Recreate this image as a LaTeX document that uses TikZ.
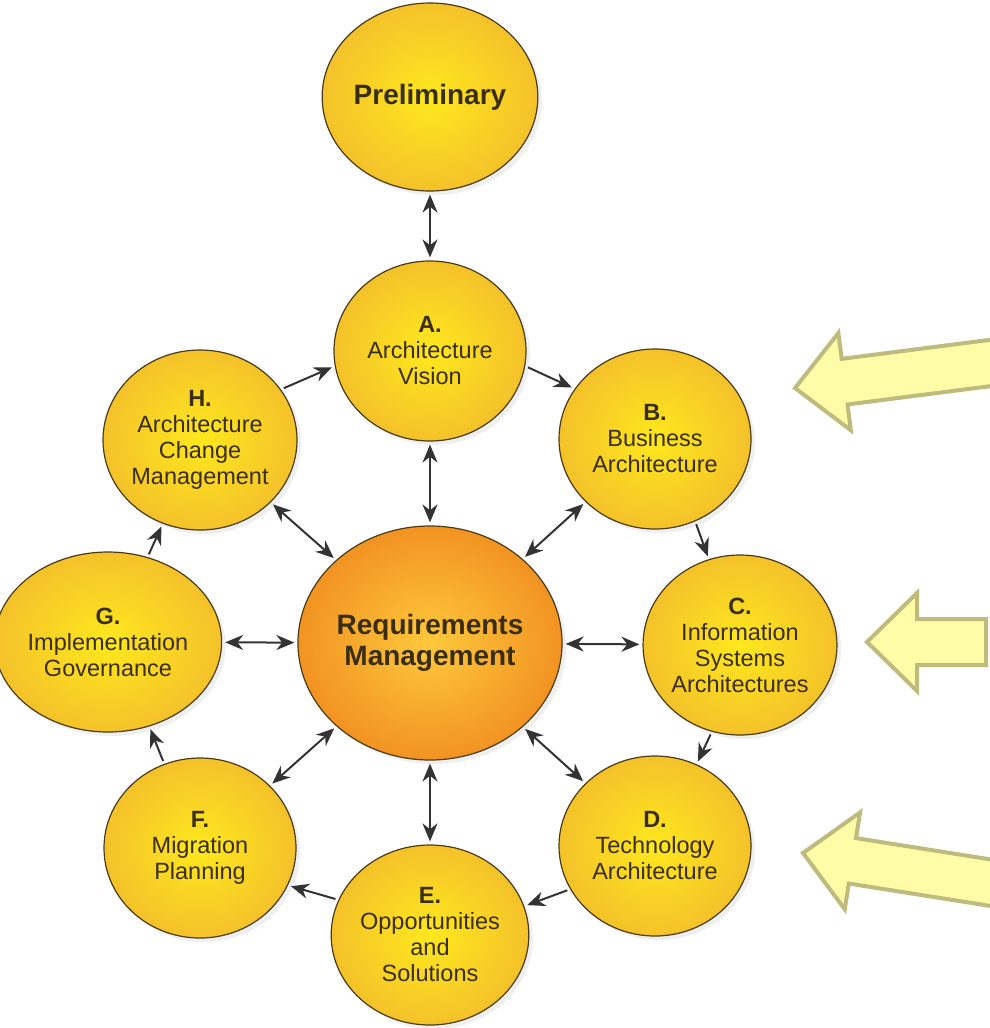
\documentclass[tikz,border=0pt]{standalone}
\usepackage{fontspec}
\setmainfont{Liberation Sans}
\usetikzlibrary{shapes.geometric, arrows.meta, shadows}

\definecolor{phasein}{HTML}{FFE81E}
\definecolor{phaseout}{HTML}{F4C22A}
\definecolor{reqin}{HTML}{FFC83C}
\definecolor{reqout}{HTML}{F29322}
\definecolor{rim}{HTML}{4A3C18}
\definecolor{ink}{HTML}{3A2E12}
\definecolor{hintfill}{HTML}{FFFCA8}
\definecolor{hintrim}{HTML}{BEBB7C}
\definecolor{wire}{HTML}{333333}

\begin{document}
\begin{tikzpicture}[
    x=1pt, y=-1pt,
    phase/.style={ellipse, draw=rim, line width=1.2pt,
                  minimum width=192pt, minimum height=180pt, inner sep=0pt,
                  inner color=phasein, outer color=phaseout,
                  drop shadow={shadow xshift=4pt, shadow yshift=-4pt, opacity=0.12},
                  align=center, text=ink, font=\fontsize{23.5}{26}\selectfont},
    hub/.style={phase, minimum width=244pt, minimum height=234pt,
                inner color=reqin, outer color=reqout,
                font=\fontsize{28}{31}\selectfont\bfseries},
    link/.style={draw=wire, line width=2pt, shorten >=3pt, shorten <=3pt},
    flow/.style={link, -{Stealth[length=18pt, width=15pt]}},
    both/.style={link, {Stealth[length=18pt, width=15pt]}-{Stealth[length=18pt, width=15pt]}},
    hint/.style={fill=hintfill, draw=hintrim, line width=4pt, line join=miter}
  ]
  \path[use as bounding box, fill=white] (0,0) rectangle (990,1028);

  % phases
  \node[phase, minimum height=188pt, font=\fontsize{28}{30}\selectfont\bfseries]
    (prelim) at (430,97) {Preliminary};
  \node[phase] (visionA) at (430,351) {\textbf{A.}\\Architecture\\Vision};
  \node[phase] (businessB) at (655,439) {\textbf{B.}\\Business\\Architecture};
  \node[phase] (infosysC) at (740,645) {\textbf{C.}\\Information\\Systems\\Architectures};
  \node[phase] (techD) at (655,846) {\textbf{D.}\\Technology\\Architecture};
  \node[phase] (solutionsE) at (430,935) {\textbf{E.}\\Opportunities\\and\\Solutions};
  \node[phase] (migrationF) at (200,848) {\textbf{F.}\\Migration\\Planning};
  \node[phase] (governG) at (108,642) {\textbf{G.}\\Implementation\\Governance};
  \node[phase] (changeH) at (200,440) {\textbf{H.}\\Architecture\\Change\\Management};
  \node[hub] (reqs) at (430,643) {Requirements\\Management};

  % links to the hub
  \draw[both] (prelim) -- (visionA);
  \foreach \p in {visionA, businessB, infosysC, techD, solutionsE, migrationF, governG, changeH}
    \draw[both] (reqs) -- (\p);

  % the cycle
  \foreach \a/\b in {visionA.-9/businessB.148, businessB.-64/infosysC.110,
                     infosysC.-108/techD.63, techD.207/solutionsE.17,
                     solutionsE.159/migrationF.-23, migrationF.113/governG.-64,
                     governG.65/changeH.-114, changeH.32/visionA.189}
    \draw[flow] (\a) -- (\b);

  % block arrows on the right
  \foreach \tx/\ty/\turn/\reach in {795/388/7.3/215, 867/642/0/119, 803/853/-9/200}
    \draw[hint, shift={(\tx,\ty)}, rotate=\turn]
      (0,0) -- (50,-49) -- (50,-23) -- (\reach,-23) -- (\reach,23) -- (50,23) -- (50,49) -- cycle;
\end{tikzpicture}
\end{document}
